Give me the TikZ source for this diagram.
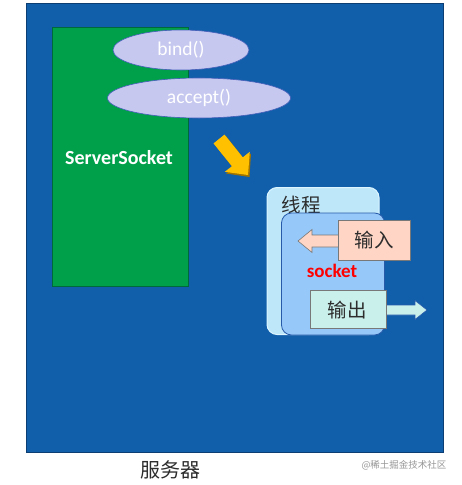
\documentclass[tikz,border=0pt]{standalone}
\usepackage{fontspec}
\setmainfont{Carlito}
\newfontfamily\cjk{Noto Sans CJK SC}
\usetikzlibrary{shapes.geometric}
\definecolor{bgblue}{RGB}{17,94,170}
\definecolor{bgedge}{RGB}{12,62,115}
\definecolor{ssgreen}{RGB}{0,160,75}
\definecolor{ssedge}{RGB}{0,105,60}
\definecolor{lav}{RGB}{198,200,240}
\definecolor{lavedge}{RGB}{70,95,185}
\definecolor{thrfill}{RGB}{190,232,250}
\definecolor{thredge}{RGB}{220,245,255}
\definecolor{sockfill}{RGB}{150,200,250}
\definecolor{sockedge}{RGB}{40,90,170}
\definecolor{infill}{RGB}{255,214,198}
\definecolor{outfill}{RGB}{202,240,235}
\definecolor{boxedge}{RGB}{120,120,120}
\definecolor{arryel}{RGB}{255,192,0}
\definecolor{arrshadow}{RGB}{160,115,0}
\definecolor{cjktext}{RGB}{45,45,45}
\definecolor{wmgray}{RGB}{150,150,150}
\tikzset{
  method/.style={ellipse, draw=lavedge, line width=0.6pt, fill=lav, text=white, font=\fontsize{19.5}{21}\selectfont, inner sep=0pt},
  cjklabel/.style={text=cjktext, font=\cjk\fontsize{19.5}{21}\selectfont, inner sep=0pt},
  iobox/.style={draw=boxedge, line width=0.6pt, inner sep=0pt}
}
\begin{document}
\begin{tikzpicture}[x=1pt, y=-1pt]
\useasboundingbox (0,0) rectangle (461,485);
\fill[white] (0,0) rectangle (461,485);
% server background
\node[draw=bgedge, fill=bgblue, line width=0.8pt, minimum width=417pt, minimum height=449pt, inner sep=0pt] (server) at (235,227.5) {};
% ServerSocket block
\node[draw=ssedge, fill=ssgreen, line width=0.8pt, minimum width=136pt, minimum height=259pt, inner sep=0pt] (ss) at (120,156.5) {};
\node[text=white, font=\bfseries\fontsize{20}{22}\selectfont, inner sep=0pt] (sslabel) at (119,158) {ServerSocket};
% methods
\node[method, minimum width=136pt, minimum height=40pt] (bind) at (181,50) {bind()};
\node[method, minimum width=183pt, minimum height=40pt] (accept) at (199,98) {accept()};
% yellow arrow
\fill[arrshadow] (215,145) -- (226,136) -- (244,159) -- (251,153.5) -- (249.5,177) -- (226,173.5) -- (233.5,168) -- cycle;
\fill[arryel] (213.5,143.4) -- (224.5,134.6) -- (242.8,157.4) -- (249.8,151.8) -- (248,175) -- (224.8,171.8) -- (231.9,166.2) -- cycle;
% thread box
\node[draw=thredge, fill=thrfill, line width=1pt, rounded corners=10pt, minimum width=112pt, minimum height=147pt, inner sep=0pt] (thread) at (323,261) {};
\node[cjklabel] (threadlabel) at (301,205) {线程};
% socket box
\node[draw=sockedge, fill=sockfill, line width=0.8pt, rounded corners=10pt, minimum width=103pt, minimum height=122pt, inner sep=0pt] (sock) at (333,274) {};
% input arrow and box
\fill[infill, draw=boxedge, line width=0.6pt] (340,235) -- (312,235) -- (312,229.5) -- (298,241) -- (312,252.5) -- (312,247) -- (340,247) -- cycle;
\node[iobox, fill=infill, minimum width=72pt, minimum height=40pt] (inbox) at (374,240) {};
\node[cjklabel] (inlabel) at (374,240) {输入};
% socket label
\node[text=red, font=\bfseries\fontsize{19}{21}\selectfont, inner sep=0pt] (socklabel) at (332,271) {socket};
% output arrow and box
\fill[outfill, draw=sockedge, line width=0.6pt] (384,305) -- (415,305) -- (415,300.5) -- (427,310) -- (415,319.5) -- (415,315) -- (384,315) -- cycle;
\node[iobox, fill=outfill, minimum width=76pt, minimum height=38pt] (outbox) at (348,309) {};
\node[cjklabel] (outlabel) at (347,310) {输出};
% captions
\node[text=cjktext, font=\cjk\fontsize{20}{22}\selectfont, inner sep=0pt] (caption) at (170,470) {服务器};
\node[text=wmgray, font=\cjk\fontsize{9.5}{11}\selectfont, inner sep=0pt] (watermark) at (404,465) {@稀土掘金技术社区};
\end{tikzpicture}
\end{document}
